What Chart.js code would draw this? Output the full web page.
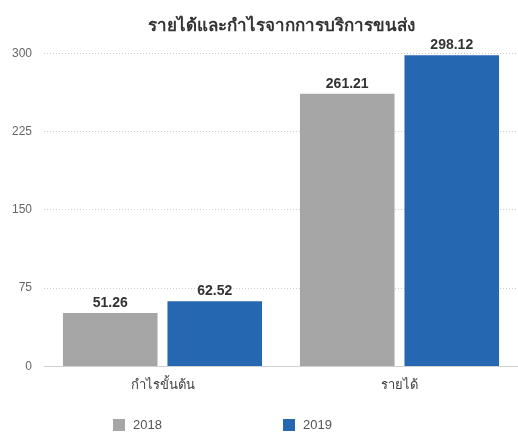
<!DOCTYPE html>
<html>
<head>
<meta charset="utf-8">
<script src="https://cdn.jsdelivr.net/npm/chart.js@4.4.1/dist/chart.umd.min.js"></script>
<style>
  html, body { margin: 0; padding: 0; background: #fff; }
  #wrap { position: relative; width: 518px; height: 434px; overflow: hidden; }
  #legend { position: absolute; left: 0; top: 417px; width: 518px; height: 16px;
    font: 13px Arial, "Liberation Sans", sans-serif; color: #555; }
  .item { position: absolute; top: 0; display: flex; align-items: center; }
  .box { width: 12px; height: 12px; margin-right: 8px; }
</style>
</head>
<body>
<div id="wrap">
  <canvas id="chart" width="518" height="434"></canvas>
  <div id="legend"></div>
</div>
<script>
const categories = ["กำไรขั้นต้น", "รายได้"];
const years = ["2018", "2019"];
const values2018 = [51.26, 261.21];
const values2019 = [62.52, 298.12];
const yTicks = [0, 75, 150, 225, 300];
const colors = ["#a6a6a6", "#2567b1"];

const chartCanvas = document.getElementById("chart");

// value labels above each bar
const valueLabels = {
  id: "valueLabels",
  afterDatasetsDraw(chart) {
    const ctx = chart.ctx;
    ctx.save();
    ctx.font = "bold 14px Arial, 'Liberation Sans', sans-serif";
    ctx.fillStyle = "#333";
    ctx.textAlign = "center";
    ctx.textBaseline = "bottom";
    chart.data.datasets.forEach((ds, i) => {
      chart.getDatasetMeta(i).data.forEach((bar, j) => {
        ctx.fillText(ds.data[j].toFixed(2), bar.x, bar.y - 3);
      });
    });
    ctx.restore();
  }
};

const chart = new Chart(chartCanvas, {
  type: "bar",
  data: {
    labels: categories,
    datasets: [
      { label: years[0], data: values2018, backgroundColor: colors[0] },
      { label: years[1], data: values2019, backgroundColor: colors[1] }
    ]
  },
  options: {
    responsive: false,
    animation: false,
    categoryPercentage: 0.882,
    barPercentage: 0.905,
    layout: { padding: { top: 0, right: -2, bottom: 38, left: 0 } },
    plugins: {
      legend: { display: false },
      tooltip: { enabled: false },
      title: {
        display: true,
        text: "รายได้และกำไรจากการบริการขนส่ง",
        color: "#333",
        fullSize: false,
        font: { size: 17, weight: "bold", family: "Arial, sans-serif" },
        padding: { top: 16, bottom: 17 }
      }
    },
    scales: {
      x: {
        grid: { display: false },
        border: { display: true, color: "#d0d0d0" },
        ticks: { color: "#444", font: { size: 13, family: "Arial, sans-serif" }, padding: 3 }
      },
      y: {
        min: 0,
        max: 300,
        afterFit(scale) { scale.width = 44; },
        afterBuildTicks(scale) { scale.ticks = yTicks.map(v => ({ value: v })); },
        grid: { color: "#cccccc", drawTicks: false },
        border: { display: false, dash: [1, 2] },
        ticks: { color: "#666", font: { size: 12, family: "Arial, sans-serif" }, padding: 12 }
      }
    }
  },
  plugins: [valueLabels]
});

// legend below the chart
const legendContainer = document.getElementById("legend");
const legendX = [113, 283];
chart.data.datasets.forEach((ds, i) => {
  const item = document.createElement("div");
  item.className = "item";
  item.style.left = legendX[i] + "px";
  item.innerHTML = `<span class="box" style="background:${ds.backgroundColor}"></span><span>${ds.label}</span>`;
  legendContainer.appendChild(item);
});
</script>
</body>
</html>
